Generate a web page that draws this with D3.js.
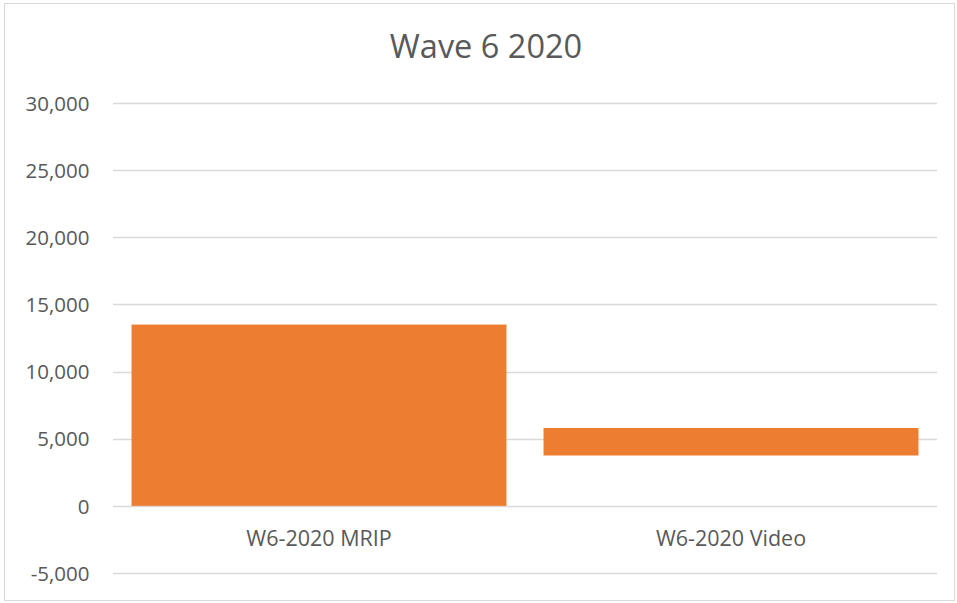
<!DOCTYPE html>
<html>
<head>
<meta charset="utf-8">
<script src="https://cdn.jsdelivr.net/npm/d3@7"></script>
<style>
  html, body { margin: 0; padding: 0; background: #fff; }
  svg text { font-family: "Open Sans", Lato, sans-serif; fill: #595959; }
</style>
</head>
<body>
<svg id="chart" width="957" height="603"></svg>
<script>
// Wave 6 2020 estimates: each bar spans from a low value to a high value
const categories = ["W6-2020 MRIP", "W6-2020 Video"];
const lowValues  = [0, 3750];
const highValues = [13500, 5800];
const yTicks = [-5000, 0, 5000, 10000, 15000, 20000, 25000, 30000];
const chartTitle = "Wave 6 2020";

const width = 957, height = 603;
const svg = d3.select("#chart");

// chart frame
svg.append("rect")
  .attr("x", 4.5).attr("y", 3.5)
  .attr("width", width - 7).attr("height", height - 6)
  .attr("fill", "#fff").attr("stroke", "#d9d9d9");

const x = d3.scaleBand()
  .domain(categories)
  .range([113, 937])
  .paddingInner(0.09)
  .paddingOuter(0.045);

const y = d3.scaleLinear()
  .domain([-5000, 30000])
  .range([573, 103]);

// horizontal gridlines
svg.append("g")
  .selectAll("line")
  .data(yTicks)
  .join("line")
  .attr("x1", 113).attr("x2", 937)
  .attr("y1", d => Math.round(y(d)) + 0.5)
  .attr("y2", d => Math.round(y(d)) + 0.5)
  .attr("stroke", "#d9d9d9")
  .attr("stroke-width", 1.3);

// y axis labels, plain hyphen for negatives
const fmt = d3.format(",");
const yAxis = d3.axisLeft(y)
  .tickValues(yTicks)
  .tickFormat(d => fmt(d).replace("\u2212", "-"))
  .tickSize(0)
  .tickPadding(0);
const gy = svg.append("g")
  .attr("transform", "translate(89.5,0)")
  .call(yAxis);
gy.select(".domain").remove();
gy.selectAll("text")
  .attr("font-size", 20.5)
  .attr("dy", "0.35em")
  .style("fill", "#595959");

// bars
svg.append("g")
  .selectAll("rect")
  .data(categories)
  .join("rect")
  .attr("x", d => x(d))
  .attr("width", x.bandwidth())
  .attr("y", (d, i) => y(highValues[i]))
  .attr("height", (d, i) => y(lowValues[i]) - y(highValues[i]))
  .attr("fill", "#ed7d31");

// category labels
const xAxis = d3.axisBottom(x).tickSize(0).tickPadding(0);
const gx = svg.append("g")
  .attr("transform", "translate(0,538.5)")
  .call(xAxis);
gx.select(".domain").remove();
gx.selectAll("text")
  .attr("font-size", 21.5)
  .attr("dy", "0.35em")
  .style("fill", "#595959");

// title
svg.append("text")
  .attr("x", 486)
  .attr("y", 47)
  .attr("dy", "0.35em")
  .attr("text-anchor", "middle")
  .attr("font-size", 32.5)
  .text(chartTitle);
</script>
</body>
</html>
